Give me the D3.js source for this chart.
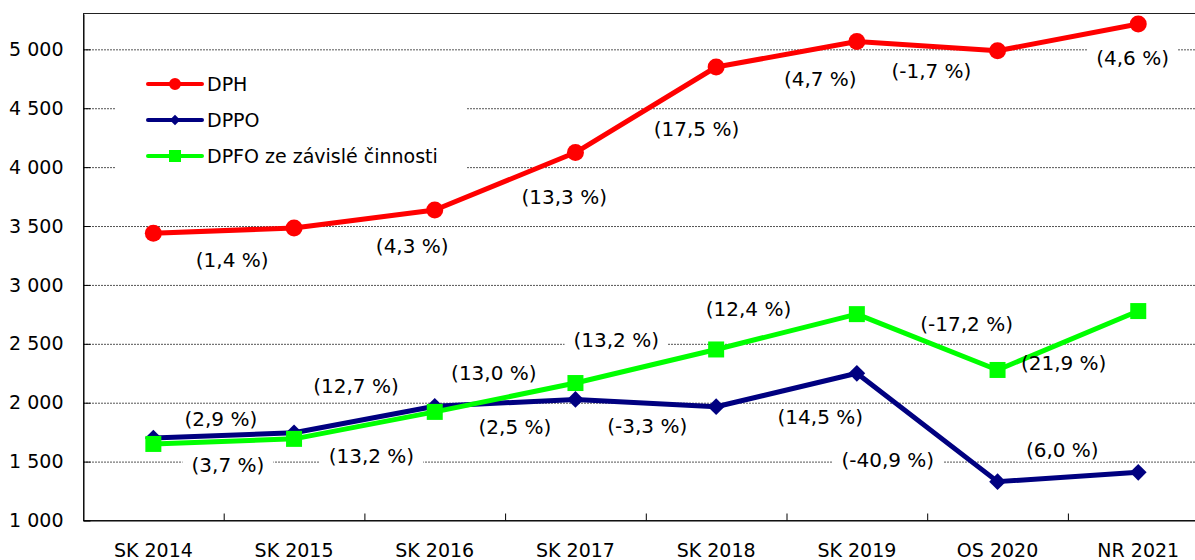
<!DOCTYPE html>
<html>
<head>
<meta charset="utf-8">
<script src="https://cdn.jsdelivr.net/npm/d3@7"></script>
<style>
  body { margin: 0; background: #fff; }
  svg { display: block; font-family: "DejaVu Sans", Verdana, sans-serif; }
</style>
</head>
<body>
<div id="chart"></div>
<script>
/* Daňové příjmy - line chart */

const categories = ["SK 2014", "SK 2015", "SK 2016", "SK 2017", "SK 2018", "SK 2019", "OS 2020", "NR 2021"];
const yTicks = [1000, 1500, 2000, 2500, 3000, 3500, 4000, 4500, 5000];

const dph  = [3438, 3484, 3636, 4124, 4850, 5066, 4988, 5215];
const dppo = [1700, 1745, 1970, 2028, 1966, 2250, 1330, 1409];
const dpfo = [1650, 1693, 1922, 2167, 2452, 2752, 2278, 2778];

const dphGrowth  = ["(1,4 %)", "(4,3 %)", "(13,3 %)", "(17,5 %)", "(4,7 %)", "(-1,7 %)", "(4,6 %)"];
const dppoGrowth = ["(2,9 %)", "(12,7 %)", "(2,5 %)", "(-3,3 %)", "(14,5 %)", "(-40,9 %)", "(6,0 %)"];
const dpfoGrowth = ["(3,7 %)", "(13,2 %)", "(13,0 %)", "(13,2 %)", "(12,4 %)", "(-17,2 %)", "(21,9 %)"];

// where each growth label sits: [category index (fractional), value on y axis]
const dphLabelAt  = [[0.56, 3217], [1.84, 3330], [2.92, 3746], [3.86, 4329], [4.74, 4754], [5.53, 4818], [6.96, 4924]];
const dppoLabelAt = [[0.48, 1862], [1.44, 2142], [2.57, 1796], [3.51, 1805], [4.74, 1881], [5.22, 1514], [6.46, 1604]];
const dpfoLabelAt = [[0.53, 1471], [1.55, 1548], [2.42, 2255], [3.29, 2538], [4.23, 2801], [5.78, 2674], [6.47, 2335]];

const width = 1195, height = 560,
      margin = ({ top: 14, left: 83, bottom: 520.5 });

const series = [
    { name: "DPH", values: dph, labels: dphGrowth, at: dphLabelAt, color: "#ff0000", symbol: d3.symbolCircle, size: 227, rot: 0, legendSize: 113 },
    { name: "DPPO", values: dppo, labels: dppoGrowth, at: dppoLabelAt, color: "#000080", symbol: d3.symbolSquare, size: 140, rot: 45, legendSize: 56 },
    { name: "DPFO ze závislé činnosti", values: dpfo, labels: dpfoGrowth, at: dpfoLabelAt, color: "#00ff00", symbol: d3.symbolSquare, size: 256, rot: 0, legendSize: 144 }
];

const svg = d3.select("#chart")
    .append("svg")
    .attr("width", width)
    .attr("height", height);

const step = 140.7;
const x = d3.scaleBand()
    .domain(categories)
    .range([margin.left, margin.left + step * categories.length])
    .padding(0);

const y = d3.scaleLinear()
    .domain([1000, 5300])
    .range([margin.bottom, margin.top]);

const cx = i => x(categories[0]) + x.bandwidth() / 2 + i * x.step();

const fmt = d3.formatLocale({ decimal: ",", thousands: " ", grouping: [3], currency: ["", ""] }).format(",d");

// gridlines
svg.append("g")
    .selectAll("line")
    .data(yTicks.slice(1))
    .join("line")
    .attr("x1", margin.left)
    .attr("x2", x.range()[1])
    .attr("y1", d => y(d) + 0.5)
    .attr("y2", d => y(d) + 0.5)
    .attr("stroke", "#555")
    .attr("stroke-width", 1)
    .attr("stroke-dasharray", "2,1");

// plot frame
svg.append("rect")
    .attr("x", margin.left + 0.5)
    .attr("y", 13.5)
    .attr("width", x.range()[1] - margin.left)
    .attr("height", margin.bottom - 13.5)
    .attr("fill", "none")
    .attr("stroke", "#222")
    .attr("stroke-width", 1);

// legend background hides gridlines
svg.append("rect")
    .attr("x", 115)
    .attr("y", 60)
    .attr("width", 352)
    .attr("height", 118)
    .attr("fill", "#fff");

// label backgrounds
const labelLayer = svg.append("g");
const lineLayer = svg.append("g");
const textLayer = svg.append("g");

series.forEach(s => {
    const line = d3.line()
        .x((d, i) => cx(i))
        .y(d => y(d));

    lineLayer.append("path")
        .datum(s.values)
        .attr("fill", "none")
        .attr("stroke", s.color)
        .attr("stroke-width", 5)
        .attr("stroke-linejoin", "round")
        .attr("d", line);

    lineLayer.append("g")
        .selectAll("path")
        .data(s.values)
        .join("path")
        .attr("d", d3.symbol().type(s.symbol).size(s.size))
        .attr("transform", (d, i) => `translate(${cx(i)},${y(d)}) rotate(${s.rot})`)
        .attr("fill", s.color);

    s.labels.forEach((t, i) => {
        const [ix, v] = s.at[i];
        const txt = textLayer.append("text")
            .attr("x", cx(ix))
            .attr("y", y(v))
            .attr("dy", "0.36em")
            .attr("text-anchor", "middle")
            .attr("font-size", 20)
            .attr("fill", "#000")
            .text(t);
        const b = txt.node().getBBox();
        labelLayer.append("rect")
            .attr("x", b.x - 9)
            .attr("y", b.y)
            .attr("width", b.width + 18)
            .attr("height", b.height)
            .attr("fill", "#fff");
    });
});

// axes
svg.append("g")
    .attr("transform", `translate(${margin.left + 0.5},0)`)
    .call(d3.axisLeft(y).tickValues(yTicks).tickFormat(fmt).tickSizeInner(-7).tickSizeOuter(0).tickPadding(20))
    .call(g => g.selectAll("text").attr("font-size", 19).attr("font-family", "DejaVu Sans").attr("fill", "#000"))
    .call(g => g.selectAll("line").attr("stroke", "#000"))
    .call(g => g.select(".domain").attr("stroke", "#000"));

svg.append("g")
    .attr("transform", `translate(0,${margin.bottom})`)
    .call(d3.axisBottom(x).tickSize(0).tickPadding(23))
    .call(g => g.selectAll("text").attr("font-size", 19).attr("font-family", "DejaVu Sans").attr("fill", "#000"))
    .call(g => g.select(".domain").attr("stroke", "#000"));

svg.append("g")
    .selectAll("line")
    .data(categories.slice(1))
    .join("line")
    .attr("x1", d => x(d) + 0.5)
    .attr("x2", d => x(d) + 0.5)
    .attr("y1", margin.bottom)
    .attr("y2", margin.bottom - 7)
    .attr("stroke", "#000");

// legend
const legend = svg.append("g")
    .selectAll("g")
    .data(series)
    .join("g")
    .attr("transform", (d, i) => `translate(148,${84 + i * 36})`);

legend.append("line")
    .attr("x1", 0)
    .attr("x2", 54)
    .attr("stroke", d => d.color)
    .attr("stroke-width", 4)
    .attr("stroke-linecap", "round");

legend.append("path")
    .attr("d", d => d3.symbol().type(d.symbol).size(d.legendSize)())
    .attr("transform", d => `translate(27,0) rotate(${d.rot})`)
    .attr("fill", d => d.color);

legend.append("text")
    .attr("x", 59)
    .attr("dy", "0.36em")
    .attr("font-size", 19)
    .attr("fill", "#000")
    .text(d => d.name);
</script>
</body>
</html>
